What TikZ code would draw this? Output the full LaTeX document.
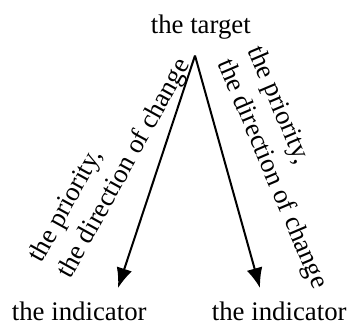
\documentclass[tikz,border=0pt]{standalone}
\usepackage{fontspec}
\setmainfont{Liberation Serif}
\usetikzlibrary{arrows.meta, calc}

\begin{document}
\begin{tikzpicture}[
  x = 1pt, y = 1pt,
  every node/.style = {font=\fontsize{13.4}{16.5}\selectfont, inner sep=0pt},
  term/.style       = {anchor=base},
  lbl/.style        = {align=left, anchor=south west, rotate=#1},
  arr/.style        = {-{Latex[length=10pt, width=8pt]}, line width=1pt},
]
\useasboundingbox (0,0) rectangle (176,162.5);

\node[term] (target) at (100.4,145.8) {the target};
\node[term] (indL)   at (39.6,2)      {the indicator};
\node[term] (indR)   at (139.6,2)     {the indicator};

%% arrow ends
\coordinate (apex) at ([xshift=-2.9pt, yshift=-8pt]target.south);
\coordinate (endL) at ([xshift=19.4pt, yshift=7pt]indL.north);
\coordinate (endR) at ([xshift=-9.6pt, yshift=7pt]indR.north);

\draw[arr] (apex) -- (endL);
\draw[arr] (apex) -- (endR);

%% slanted labels
\node[lbl=61]  (labL) at (38,21)
  {the priority,\\the direction of change};
\node[lbl=-67] (labR) at (105.8,129.8)
  {the priority,\\the direction of change};

\end{tikzpicture}
\end{document}
